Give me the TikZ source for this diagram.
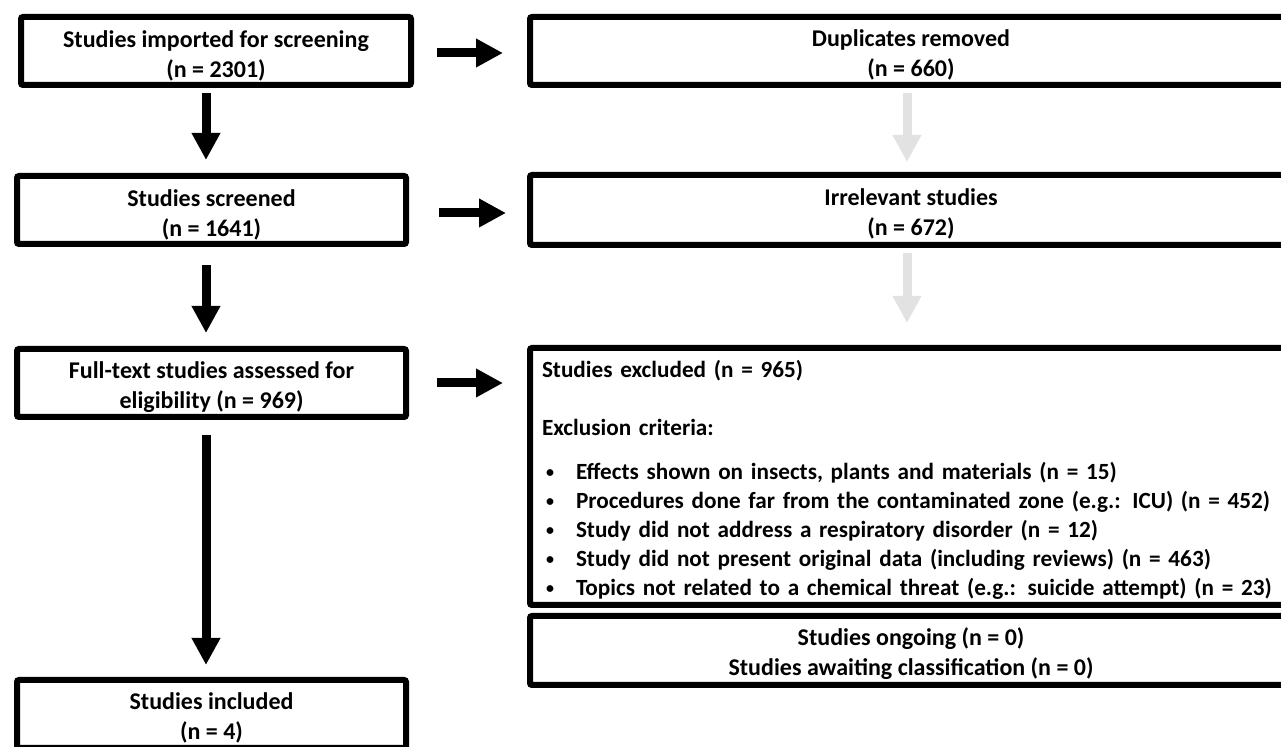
\documentclass[tikz,border=0pt]{standalone}
\usepackage{fontspec}
\setmainfont{Carlito}
\usetikzlibrary{arrows.meta}
\definecolor{lightarrow}{RGB}{226,226,226}
\newcommand{\topgap}[1]{\rule{0pt}{#1}}
\newcommand{\bul}{\hspace*{2pt}\makebox[15pt][l]{\raisebox{0.6pt}{\fontsize{8}{8}\selectfont •}}}
\begin{document}
\begin{tikzpicture}[x=0.5pt,y=-0.5pt,
  box/.style={draw=black, line width=3pt, rounded corners=1pt, fill=white,
    align=center, inner sep=0pt, font=\bfseries\fontsize{12}{15}\selectfont},
  leftbox/.style={box, minimum width=194.5pt, minimum height=34pt},
  rightbox/.style={box, minimum width=381pt},
  blockarrow/.style={line width=4.5pt, -{Triangle[width=13.5pt,length=13.5pt]}},
  darkarrow/.style={blockarrow, draw=black, fill=black},
  palearrow/.style={blockarrow, draw=lightarrow, fill=lightarrow}]
\clip (0,0) rectangle (1281,747);
\fill[white] (0,0) rectangle (1281,747);
% left column
\node[leftbox, minimum width=195pt] (imported) at (216,51) {\topgap{13pt}Studies imported for screening\\(n = 2301)};
\node[leftbox] (screened) at (211.5,210) {\topgap{13pt}Studies screened\\(n = 1641)};
\node[leftbox] (fulltext) at (211.5,383) {\topgap{13pt}Full-text studies assessed for\\eligibility (n = 969)};
\node[leftbox] (included) at (211.5,714) {\topgap{12.5pt}Studies included\\(n = 4)};
% right column
\node[rightbox, minimum height=34pt] (dup) at (911,51) {\topgap{12pt}Duplicates removed\\(n = 660)};
\node[rightbox, minimum height=35pt] (irr) at (911,210) {\topgap{12.5pt}Irrelevant studies\\(n = 672)};
\node[rightbox, minimum height=128.5pt, align=left, inner xsep=6pt, text width=369pt,
      font=\bfseries\fontsize{11.6}{14.5}\selectfont] (excl) at (911,476.5)
  {\topgap{11.5pt}Studies excluded (n = 965)\\[14.5pt]
   Exclusion criteria:\\[7.5pt]
   \bul Effects shown on insects, plants and materials (n = 15)\\
   \bul Procedures done far from the contaminated zone (e.g.: ICU) (n = 452)\\
   \bul Study did not address a respiratory disorder (n = 12)\\
   \bul Study did not present original data (including reviews) (n = 463)\\
   \bul Topics not related to a chemical threat (e.g.: suicide attempt) (n = 23)};
\node[rightbox, minimum height=34.5pt] (ongoing) at (911,650.5) {\topgap{12pt}Studies ongoing (n = 0)\\Studies awaiting classification (n = 0)};
% guide coordinates
\coordinate (lx) at (206,0);
\coordinate (rx) at (907,0);
% vertical arrows, left
\draw[darkarrow, shorten <=2.5pt, shorten >=6.5pt] (imported.south -| lx) -- (screened.north -| lx);
\draw[darkarrow, shorten <=9pt, shorten >=6.5pt] (screened.south -| lx) -- (fulltext.north -| lx);
\draw[darkarrow, shorten <=7.5pt, shorten >=6pt] (fulltext.south -| lx) -- (included.north -| lx);
% vertical arrows, right (pale)
\draw[palearrow, shorten <=2.5pt, shorten >=5pt] (dup.south -| rx) -- (irr.north -| rx);
\draw[palearrow, shorten <=2.5pt, shorten >=11pt] (irr.south -| rx) -- (excl.north -| rx);
% horizontal arrows
\draw[darkarrow, shorten <=11.5pt, shorten >=12pt] ([yshift=-1pt]imported.east) -- ([yshift=-1pt]imported.east -| dup.west);
\draw[darkarrow, shorten <=15pt, shorten >=10.5pt] ([yshift=-1.5pt]screened.east) -- ([yshift=-1.5pt]screened.east -| irr.west);
\draw[darkarrow, shorten <=14pt, shorten >=12pt] (fulltext.east) -- (fulltext.east -| excl.west);
\end{tikzpicture}
\end{document}
